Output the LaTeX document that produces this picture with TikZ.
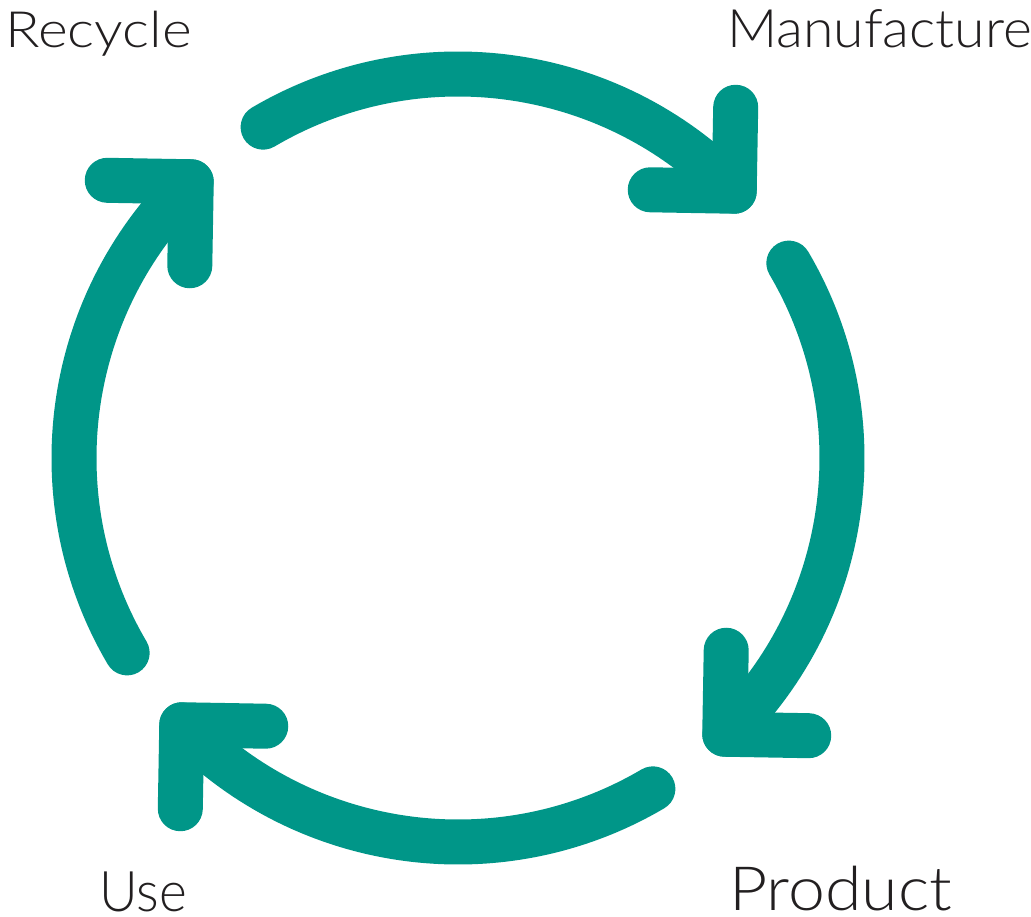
\documentclass[tikz,border=0pt]{standalone}
\usepackage{fontspec}
\setmainfont{Lato Light}
\definecolor{cycleteal}{RGB}{0,150,136}
\definecolor{ink}{RGB}{34,31,32}
\tikzset{
  loop arc/.style={draw=cycleteal, line width=45pt, line cap=round, line join=round},
  stage/.style={inner sep=0pt, anchor=base west, text=ink}
}
\begin{document}
\begin{tikzpicture}[x=1pt, y=1pt]
      \useasboundingbox (-458,-458) rectangle (573,458);
      % the four stages
      \node[stage, xscale=1.14, font=\fontsize{50}{60}\selectfont] (recycle) at (-453,410) {Recycle};
      \node[stage, xscale=1.045, font=\fontsize{53}{63}\selectfont] (manufacture) at (269,410) {Manufacture};
      \node[stage, xscale=1.085, font=\fontsize{61}{73}\selectfont] (product) at (271,-452) {Product};
      \node[stage, xscale=0.95, font=\fontsize{56}{67}\selectfont] (use) at (-359,-453) {Use};
      % where each arc starts
      \coordinate (s1) at (120.5:384);
      \coordinate (s2) at (30.5:384);
      \coordinate (s3) at (-59.5:384);
      \coordinate (s4) at (-149.5:384);
      % arcs, ending in a chevron
      \draw[loop arc] (s1) arc[start angle=120.5, end angle=44, radius=384] coordinate (t1);
      \draw[loop arc] (t1) ++(89:84) -- (t1) -- ++(179:84);
      \draw[loop arc] (s2) arc[start angle=30.5, end angle=-46, radius=384] coordinate (t2);
      \draw[loop arc] (t2) ++(-1:84) -- (t2) -- ++(89:84);
      \draw[loop arc] (s3) arc[start angle=-59.5, end angle=-136, radius=384] coordinate (t3);
      \draw[loop arc] (t3) ++(-91:84) -- (t3) -- ++(-1:84);
      \draw[loop arc] (s4) arc[start angle=-149.5, end angle=-226, radius=384] coordinate (t4);
      \draw[loop arc] (t4) ++(179:84) -- (t4) -- ++(-91:84);
    \end{tikzpicture}
\end{document}
